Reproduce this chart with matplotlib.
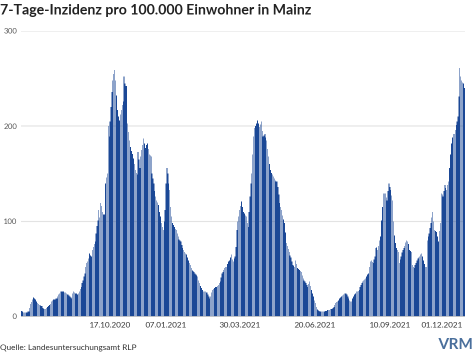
import numpy as np
import matplotlib
matplotlib.use("Agg")
import matplotlib.pyplot as plt

plt.rcParams["font.family"] = ["Lato", "DejaVu Sans"]

# ---- data: daily 7-day incidence, Mainz ----
incidence = [
    6, 5, 4, 4, 4, 4, 4, 5, 5, 9,
    13, 15, 18, 20, 19, 18, 16, 14, 13, 12,
    12, 11, 11, 9, 8, 8, 8, 9, 10, 11,
    12, 13, 16, 17, 18, 18, 18, 19, 19, 21,
    23, 24, 26, 26, 26, 26, 25, 25, 24, 23,
    23, 22, 21, 20, 19, 24, 26, 25, 24, 24,
    23, 24, 26, 29, 31, 35, 38, 42, 45, 52,
    56, 58, 61, 66, 64, 63, 70, 73, 76, 79,
    87, 95, 101, 112, 104, 119, 116, 110, 107, 107,
    140, 146, 150, 200, 189, 205, 220, 236, 248, 255,
    259, 248, 232, 217, 210, 206, 212, 217, 222, 226,
    252, 245, 242, 242, 203, 194, 185, 178, 174, 171,
    166, 160, 154, 151, 149, 173, 165, 156, 168, 175,
    180, 187, 182, 177, 180, 182, 176, 170, 169, 168,
    150, 145, 140, 132, 126, 122, 120, 117, 110, 105,
    98, 94, 91, 100, 112, 140, 156, 150, 140, 133,
    115, 105, 98, 96, 94, 92, 91, 87, 84, 81,
    80, 79, 75, 72, 70, 68, 66, 65, 62, 59,
    56, 54, 51, 49, 48, 47, 45, 44, 43, 42,
    38, 35, 32, 30, 28, 26, 26, 26, 25, 25,
    23, 21, 19, 21, 25, 28, 29, 30, 31, 31,
    32, 33, 35, 37, 41, 45, 47, 49, 51, 52,
    52, 55, 58, 59, 62, 65, 60, 58, 61, 63,
    73, 91, 100, 105, 112, 116, 121, 115, 110, 108,
    106, 105, 98, 94, 110, 126, 140, 150, 170, 189,
    198, 200, 203, 206, 203, 199, 202, 205, 195, 189,
    190, 192, 188, 185, 176, 168, 160, 154, 151, 149,
    147, 145, 143, 142, 142, 136, 128, 119, 115, 112,
    106, 102, 98, 88, 77, 74, 71, 68, 64, 62,
    58, 54, 53, 52, 59, 55, 51, 50, 49, 48,
    47, 43, 40, 38, 37, 35, 33, 31, 34, 37,
    32, 28, 24, 21, 17, 14, 10, 8, 7, 6,
    5, 5, 5, 5, 5, 5, 6, 6, 7, 7,
    7, 8, 8, 8, 9, 10, 12, 14, 15, 16,
    17, 19, 20, 21, 22, 23, 24, 24, 24, 23,
    21, 19, 17, 16, 16, 19, 21, 23, 24, 26,
    26, 27, 28, 31, 33, 35, 37, 38, 39, 40,
    42, 44, 45, 52, 58, 59, 57, 56, 60, 63,
    72, 73, 70, 74, 80, 84, 101, 115, 129, 129,
    129, 125, 122, 132, 140, 136, 133, 127, 122, 100,
    85, 77, 72, 70, 68, 56, 60, 63, 67, 70,
    72, 74, 78, 80, 79, 76, 70, 69, 68, 54,
    52, 51, 54, 56, 59, 61, 62, 63, 65, 66,
    63, 59, 55, 52, 52, 80, 84, 87, 93, 98,
    104, 110, 100, 91, 90, 89, 84, 79, 90, 98,
    129, 128, 126, 132, 138, 135, 133, 138, 142, 156,
    170, 182, 188, 192, 192, 196, 201, 205, 210, 231,
    261, 252, 248, 246, 245, 240,
]
date_labels = ["17.10.2020", "07.01.2021", "30.03.2021",
               "20.06.2021", "10.09.2021", "01.12.2021"]
y_ticks = [0, 100, 200, 300]

# where the labels sit along the bar index
label_pos = [94.9, 154.9, 234.2, 314.6, 395.0, 450.7]

BAR = "#1b4896"
GRID = "#e3e3e3"
SS = 2  # draw at 2x, then shrink -> gives the striped look of the original

fig = plt.figure(figsize=(4.74, 3.55), dpi=100 * SS, facecolor="white")
ax = fig.add_axes([0.0443, 0.1085, 0.9367, 0.8042])

x = np.arange(len(incidence))
ax.bar(x, incidence, width=0.78, color=BAR, linewidth=0, zorder=2)

ax.set_xlim(-0.5, len(incidence) - 0.5)
ax.set_ylim(0, 300)
for s in ax.spines.values():
    s.set_visible(False)
ax.axhline(0, color="#888888", linewidth=0.6, zorder=3)
for yv in y_ticks[1:]:
    ax.axhline(yv, color=GRID, linewidth=0.8, zorder=1)

ax.set_yticks(y_ticks)
ax.set_yticklabels([str(v) for v in y_ticks], fontsize=5.5, color="#555555")
ax.tick_params(axis="y", length=0, pad=3)
ax.set_xticks(label_pos)
ax.set_xticklabels(date_labels, fontsize=5.8, color="#333333")
ax.tick_params(axis="x", length=0, pad=4)

fig.text(0.0, 0.970, "7-Tage-Inzidenz pro 100.000 Einwohner in Mainz",
         fontsize=10.2, fontweight="bold", color="#222222", va="center", ha="left")
fig.text(0.0, 0.02, "Quelle: Landesuntersuchungsamt RLP",
         fontsize=5.9, color="#333333", va="center", ha="left")
fig.text(0.998, 0.03, "VRM", fontsize=11, fontweight="bold", color="#4a6f9c",
         va="center", ha="right")

# render big, average SSxSS blocks down to 474x355
fig.canvas.draw()
img = np.asarray(fig.canvas.buffer_rgba()).astype(float) / 255.0
h, w = img.shape[0] // SS, img.shape[1] // SS
img = img[:h * SS, :w * SS].reshape(h, SS, w, SS, 4).mean(axis=(1, 3))
plt.imsave("out.png", np.clip(img, 0, 1))
plt.close(fig)
